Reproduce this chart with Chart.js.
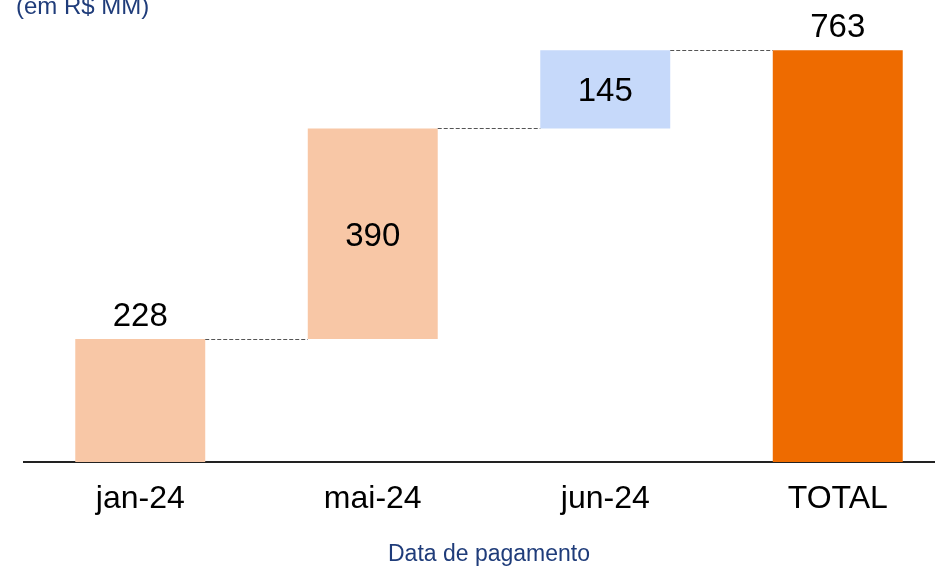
<!DOCTYPE html>
<html><head><meta charset="utf-8">
<script src="https://cdn.jsdelivr.net/npm/chart.js@4.4.1/dist/chart.umd.min.js"></script>
<style>
html,body{margin:0;padding:0;background:#fff;overflow:hidden;width:935px;height:566px;}
#wrap{position:relative;width:935px;height:566px;overflow:hidden;background:#fff;}
#unit{position:absolute;left:16px;top:-8px;font-family:"Liberation Sans",Arial,sans-serif;font-size:24px;color:#1F3C7A;white-space:nowrap;}
canvas{position:absolute;left:0;top:0;}
</style></head><body>
<div id="wrap"><canvas id="c" width="960" height="566"></canvas><div id="unit">(em R$ MM)</div></div>
<script>
const categories = ['jan-24', 'mai-24', 'jun-24', 'TOTAL'];
const baseValues = [0, 228, 618, 0];
const values = [228, 390, 145, 763];
const colors = ['#F8C7A6', '#F8C7A6', '#C6D9FA', '#EE6B00'];
const labelPlacement = ['above', 'inside', 'inside', 'above'];
const FONT = '"Liberation Sans", Arial, sans-serif';

const waterfallPlugin = {
  id: 'wf',
  afterDatasetsDraw(chart) {
    const ctx = chart.ctx;
    const meta = chart.getDatasetMeta(0);
    const y = chart.scales.y;
    ctx.save();
    ctx.strokeStyle = '#555';
    ctx.lineWidth = 1;
    ctx.setLineDash([4, 2]);
    for (let i = 0; i < meta.data.length - 1; i++) {
      const a = meta.data[i], b = meta.data[i + 1];
      const yy = Math.round(y.getPixelForValue(baseValues[i] + values[i])) + 0.5;
      ctx.beginPath();
      ctx.moveTo(a.x + a.width / 2, yy);
      ctx.lineTo(b.x - b.width / 2, yy);
      ctx.stroke();
    }
    ctx.setLineDash([]);
    ctx.font = '33px ' + FONT;
    ctx.fillStyle = '#000';
    ctx.textAlign = 'center';
    ctx.textBaseline = 'alphabetic';
    meta.data.forEach((bar, i) => {
      const top = y.getPixelForValue(baseValues[i] + values[i]);
      const bottom = y.getPixelForValue(baseValues[i]);
      if (labelPlacement[i] === 'above') {
        ctx.fillText(String(values[i]), bar.x, top - 13);
      } else {
        ctx.fillText(String(values[i]), bar.x, (top + bottom) / 2 + 12);
      }
    });
    ctx.restore();
  }
};

new Chart(document.getElementById('c'), {
  type: 'bar',
  data: {
    labels: categories,
    datasets: [{
      data: categories.map((c, i) => [baseValues[i], baseValues[i] + values[i]]),
      backgroundColor: colors,
      borderWidth: 0,
      barPercentage: 0.559,
      categoryPercentage: 1
    }]
  },
  options: {
    responsive: false,
    animation: false,
    layout: { padding: { left: 24, right: 6, top: 0, bottom: 0 } },
    plugins: { legend: { display: false }, tooltip: { enabled: false } },
    scales: {
      x: {
        grid: { display: false, drawTicks: false },
        border: { display: true, color: '#222', width: 2 },
        ticks: { color: '#000', font: { family: FONT, size: 32 }, padding: 18 },
        title: { display: true, text: 'Data de pagamento', color: '#1F3C7A',
                 font: { family: FONT, size: 23, lineHeight: 1 }, padding: { top: 0, bottom: 0 } },
        afterFit(s) { s.height = 104; }
      },
      y: { display: false, min: 0, max: 856 }
    }
  },
  plugins: [waterfallPlugin]
});
</script>
</body></html>
